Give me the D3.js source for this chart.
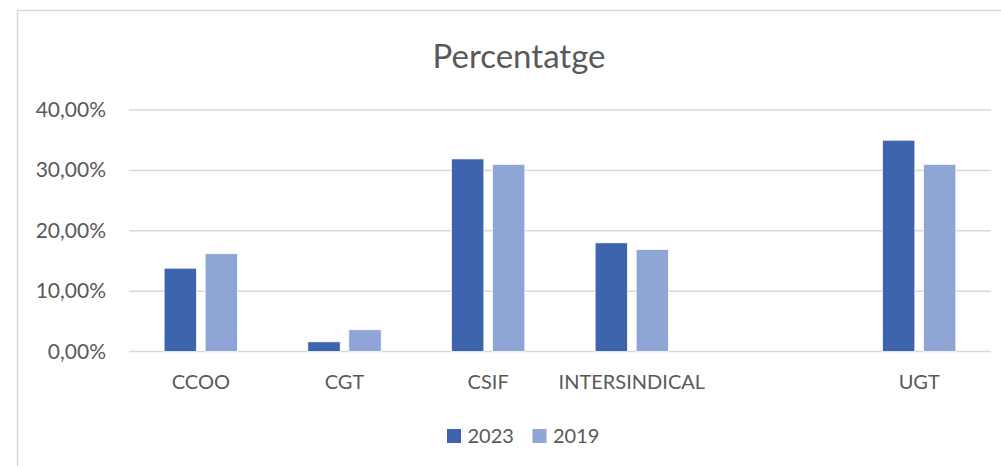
<!DOCTYPE html>
<html>
<head>
<meta charset="utf-8">
<script src="https://cdn.jsdelivr.net/npm/d3@7"></script>
<style>
  body { margin: 0; background: #fff; }
  text { font-family: Lato, "Open Sans", sans-serif; fill: #595959; }
</style>
</head>
<body>
<script>
var categories = ["CCOO", "CGT", "CSIF", "INTERSINDICAL", "", "UGT"];
var series = ["2023", "2019"];
var values2023 = [0.138, 0.016, 0.319, 0.180, null, 0.350];
var values2019 = [0.162, 0.036, 0.310, 0.169, null, 0.310];
var yTicks = [0, 0.1, 0.2, 0.3, 0.4];
var colors = ["#3d64ad", "#8fa5d5"];

var width = 1001, height = 466;
var margin = {top: 110, right: 10, bottom: 115, left: 129};

var svg = d3.select("body").append("svg")
    .attr("width", width)
    .attr("height", height);

// chart frame
svg.append("rect")
    .attr("x", 17.5).attr("y", 10.5)
    .attr("width", width).attr("height", height)
    .attr("fill", "none")
    .attr("stroke", "#d9d9d9")
    .attr("stroke-width", 1.5);

svg.append("text")
    .attr("x", 519).attr("y", 68)
    .attr("text-anchor", "middle")
    .style("font-size", "33px")
    .text("Percentatge");

var x0 = d3.scaleBand()
    .domain(d3.range(categories.length))
    .range([129, 991]);

var x1 = d3.scaleBand()
    .domain(series)
    .range([x0.bandwidth() / 2 - 36.7, x0.bandwidth() / 2 + 36.7])
    .paddingInner(0.21);

var y = d3.scaleLinear()
    .domain([0, 0.4])
    .range([351.5, 110]);

var fmt = function(d) { return d3.format(".2f")(d * 100).replace(".", ",") + "%"; };

// gridlines
svg.append("g").selectAll("line")
    .data(yTicks)
    .enter().append("line")
    .attr("x1", 129).attr("x2", 991)
    .attr("y1", function(d) { return y(d); })
    .attr("y2", function(d) { return y(d); })
    .attr("stroke", "#d9d9d9")
    .attr("stroke-width", 1.5);

svg.append("g").selectAll("text")
    .data(yTicks)
    .enter().append("text")
    .attr("x", 106)
    .attr("y", function(d) { return y(d) + 7; })
    .attr("text-anchor", "end")
    .style("font-size", "21px")
    .text(fmt);

var rows = categories.map(function(c, i) {
  return {i: i, vals: [values2023[i], values2019[i]]};
});

var groups = svg.append("g").selectAll("g")
    .data(rows)
    .enter().append("g")
    .attr("transform", function(d) { return "translate(" + x0(d.i) + ",0)"; });

groups.selectAll("rect")
    .data(function(d) { return d.vals.map(function(v, k) { return {k: k, v: v}; }).filter(function(e) { return e.v != null; }); })
    .enter().append("rect")
    .attr("x", function(d) { return x1(series[d.k]); })
    .attr("width", x1.bandwidth())
    .attr("y", function(d) { return y(d.v); })
    .attr("height", function(d) { return y(0) - y(d.v); })
    .attr("fill", function(d) { return colors[d.k]; })
    .attr("stroke", "#fff")
    .attr("stroke-width", 0.75);

svg.append("g").selectAll("text")
    .data(categories)
    .enter().append("text")
    .attr("x", function(d, i) { return x0(i) + x0.bandwidth() / 2; })
    .attr("y", 389)
    .attr("text-anchor", "middle")
    .style("font-size", "20px")
    .text(function(d) { return d; });

// legend
var legendX = [447, 532.5];
var legend = svg.append("g").selectAll("g")
    .data(series)
    .enter().append("g")
    .attr("transform", function(d, i) { return "translate(" + legendX[i] + ",0)"; });

legend.append("rect")
    .attr("y", 429).attr("width", 14).attr("height", 14)
    .attr("fill", function(d, i) { return colors[i]; });

legend.append("text")
    .attr("x", 20.5).attr("y", 443)
    .style("font-size", "20px")
    .text(function(d) { return d; });
</script>
</body>
</html>
